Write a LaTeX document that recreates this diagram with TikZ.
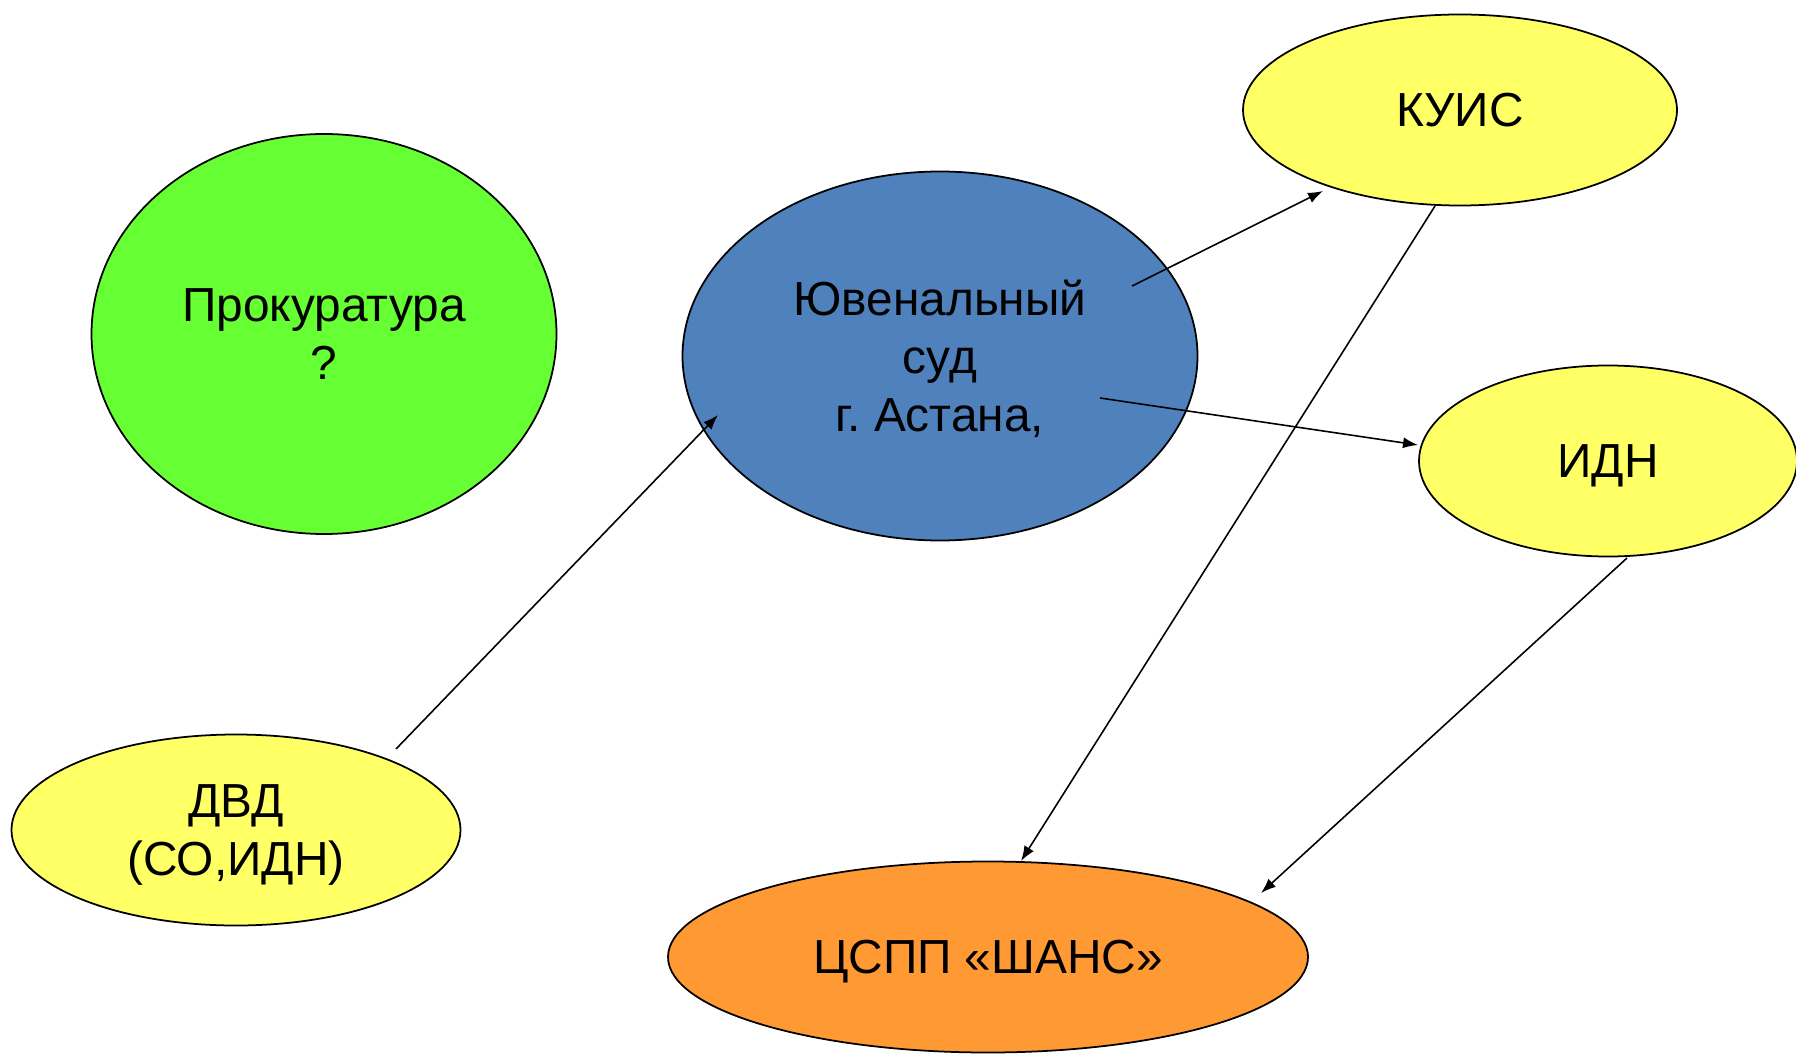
\documentclass[tikz,border=0pt]{standalone}
\usepackage{fontspec}
\setmainfont{Liberation Sans}
\usetikzlibrary{shapes.geometric, arrows.meta}
\definecolor{zelenyj}{HTML}{66FF33}
\definecolor{sinij}{HTML}{4F81BD}
\definecolor{zheltyj}{HTML}{FFFF66}
\definecolor{oranzh}{HTML}{FF9933}

\tikzset{
	organ/.style={ellipse, draw=black, line width=0.5pt, inner sep=0pt,
		align=center, text depth=0pt, font=\fontsize{13.6}{16.5}\selectfont},
	strelka/.style={line width=0.45pt, -{Latex[length=1.5mm, width=1.1mm]}}
}

\begin{document}
\begin{tikzpicture}
				\useasboundingbox (0,0) rectangle (17.96,10.53);

				\node[organ, fill=zelenyj, minimum width=4.65cm, minimum height=4.00cm]
					(prok) at (3.24,7.19) {Прокуратура\\?};
				\node[organ, fill=sinij, minimum width=5.15cm, minimum height=3.69cm]
					(sud) at (9.40,6.97) {Ювенальный\\суд\\г.\ Астана,};
				\node[organ, fill=zheltyj, minimum width=4.34cm, minimum height=1.91cm]
					(kuis) at (14.60,9.43) {КУИС};
				\node[organ, fill=zheltyj, minimum width=3.78cm, minimum height=1.91cm]
					(idn) at (16.08,5.92) {ИДН};
				\node[organ, fill=zheltyj, minimum width=4.49cm, minimum height=1.91cm]
					(dvd) at (2.36,2.23) {ДВД\\(СО,ИДН)};
				\node[organ, fill=oranzh, minimum width=6.40cm, minimum height=1.91cm]
					(shans) at (9.88,0.96) {ЦСПП «ШАНС»};

				% points where the arrows start and end
				\coordinate (dvd-out) at ([shift={(1.60,0.81)}]dvd.center);
				\coordinate (sud-in) at ([shift={(-2.22,-0.59)}]sud.center);
				\coordinate (sud-out1) at ([shift={(1.92,0.70)}]sud.center);
				\coordinate (sud-out2) at ([shift={(1.60,-0.42)}]sud.center);
				\coordinate (kuis-in) at ([shift={(-1.37,-0.81)}]kuis.center);
				\coordinate (kuis-out) at ([shift={(-0.25,-0.96)}]kuis.center);
				\coordinate (idn-in) at ([shift={(-1.90,0.16)}]idn.center);
				\coordinate (idn-out) at ([shift={(0.19,-0.97)}]idn.center);
				\coordinate (shans-in1) at ([shift={(0.33,0.96)}]shans.center);
				\coordinate (shans-in2) at ([shift={(2.73,0.64)}]shans.center);

				\draw[strelka] (dvd-out) -- (sud-in);
				\draw[strelka] (sud-out1) -- (kuis-in);
				\draw[strelka] (sud-out2) -- (idn-in);
				\draw[strelka] (kuis-out) -- (shans-in1);
				\draw[strelka] (idn-out) -- (shans-in2);
\end{tikzpicture}
\end{document}
